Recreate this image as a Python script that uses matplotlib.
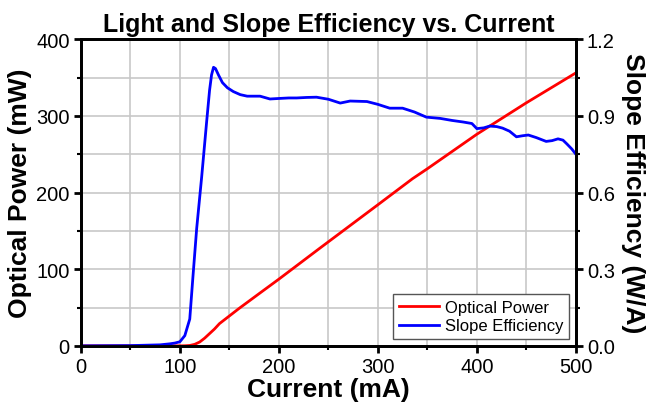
import matplotlib
matplotlib.use("Agg")
import matplotlib.pyplot as plt
from matplotlib.ticker import MultipleLocator, FormatStrFormatter

plt.rcParams['font.family'] = ['Liberation Sans', 'DejaVu Sans']

current_power = [0, 50, 100, 105, 110, 115, 120, 125, 130, 135, 140, 150, 160, 181, 200, 241, 300, 335, 350, 400, 450, 500]
optical_power = [0, 0, 0, 0.1, 0.5, 2, 5, 10, 16, 22, 29, 39, 49, 69, 87, 127, 184, 218, 231, 276, 317, 356]

current_se = [0, 50, 80, 90, 95, 100, 105, 110, 113, 117, 122, 127, 130, 132, 134, 136, 139, 143, 148, 154, 161, 168, 175, 181, 191, 200, 210, 218, 228, 238, 250,
              262, 272, 289, 300, 312, 325, 337, 349, 363, 375, 386, 395, 400, 407, 413, 420, 426, 433, 440, 446, 452, 460, 470, 476, 482, 487, 491, 496, 500]
slope_eff = [0, 0.001, 0.004, 0.008, 0.011, 0.016, 0.04, 0.105, 0.26, 0.46, 0.66, 0.875, 1.0, 1.06, 1.09, 1.085, 1.06, 1.03, 1.01, 0.995, 0.983, 0.977, 0.977, 0.977, 0.966, 0.968, 0.97, 0.97, 0.972, 0.973, 0.965,
             0.95, 0.958, 0.956, 0.945, 0.93, 0.93, 0.915, 0.895, 0.89, 0.882, 0.876, 0.87, 0.85, 0.853, 0.86, 0.858, 0.852, 0.84, 0.818, 0.822, 0.825, 0.815, 0.80, 0.803, 0.81, 0.805, 0.79, 0.77, 0.75]

fig = plt.figure(figsize=(6.47, 4.10), dpi=100)
ax = fig.add_axes([0.125, 0.154, 0.765, 0.748])
ax2 = ax.twinx()

l1, = ax.plot(current_power, optical_power, color='#ff0000', lw=2, label='Optical Power')
l2, = ax2.plot(current_se, slope_eff, color='#0000ff', lw=2, label='Slope Efficiency')

ax.set_xlim(0, 500)
ax.set_ylim(0, 400)
ax2.set_ylim(0, 1.2)
ax.xaxis.set_major_locator(MultipleLocator(100))
ax.xaxis.set_minor_locator(MultipleLocator(50))
ax.yaxis.set_major_locator(MultipleLocator(100))
ax.yaxis.set_minor_locator(MultipleLocator(50))
ax2.yaxis.set_major_locator(MultipleLocator(0.3))
ax2.yaxis.set_minor_locator(MultipleLocator(0.15))
ax2.yaxis.set_major_formatter(FormatStrFormatter('%.1f'))

ax.grid(True, which='both', color='#c8c8c8', lw=1.2)
ax.set_axisbelow(True)

for a in (ax, ax2):
    for s in a.spines.values():
        s.set_linewidth(2)
    a.tick_params(which='major', direction='out', length=5, width=2, labelsize=14.5, pad=3)
    a.tick_params(which='minor', direction='out', length=3, width=1.5)

ax.set_xlabel('Current (mA)', fontsize=19, fontweight='bold', labelpad=1)
ax.set_ylabel('Optical Power (mW)', fontsize=19, fontweight='bold', labelpad=3)
ax2.set_ylabel('Slope Efficiency (W/A)', fontsize=19, fontweight='bold', rotation=270, labelpad=22)
ax.set_title('Light and Slope Efficiency vs. Current', fontsize=18, fontweight='bold', pad=6)

leg = ax.legend([l1, l2], ['Optical Power', 'Slope Efficiency'], loc='lower right', fontsize=12,
                fancybox=False, edgecolor='#555555', framealpha=1, handlelength=2.4,
                borderaxespad=0.4, handletextpad=0.35, borderpad=0.35, labelspacing=0.2)
leg.get_frame().set_linewidth(1)

fig.savefig('out.png', dpi=100)
